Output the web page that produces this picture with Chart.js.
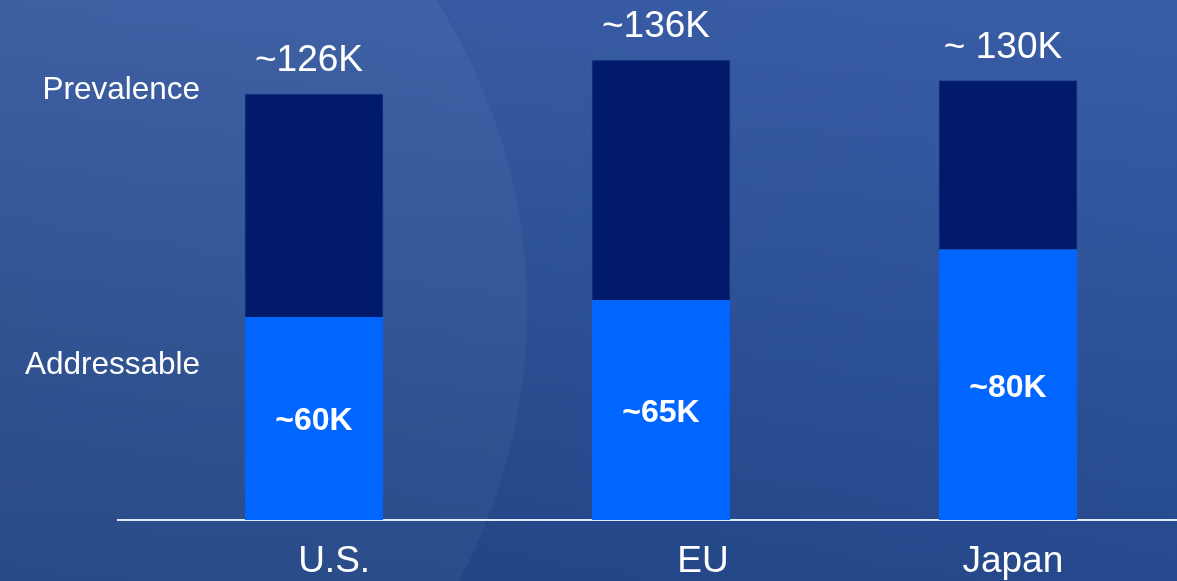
<!DOCTYPE html>
<html>
<head>
<meta charset="utf-8">
<title>Patient population</title>
<script src="https://cdn.jsdelivr.net/npm/chart.js@4.4.1/dist/chart.umd.min.js"></script>
<style>
    html, body {
        margin: 0;
        padding: 0;
        overflow: hidden;
        background: #2c4c8c;
    }
    .chart-wrap {
        position: relative;
        width: 1177px;
        height: 581px;
    }
</style>
</head>
<body>
<div class="chart-wrap">
    <canvas id="popChart"></canvas>
</div>
<script>
// Regions and population estimates (thousands of patients)
const regions = ['U.S.', 'EU', 'Japan'];
const prevalence = [126, 136, 130];
const addressable = [60, 65, 80];
const prevalenceLabels = ['~126K', '~136K', '~ 130K'];
const addressableLabels = ['~60K', '~65K', '~80K'];
const seriesNames = ['Addressable', 'Prevalence'];

// the stacked top segment is what is left of prevalence above the addressable part
const remainder = prevalence.map((p, i) => p - addressable[i]);

// region names sit a little to the right of their bars
const regionLabelNudge = [0.058, 0.121, 0.014];

const FONT = '"Liberation Sans", Arial, Helvetica, sans-serif';

// Blue slide background with the large soft circle on the left
const backgroundPlugin = {
    id: 'slideBackground',
    beforeDraw(chart) {
        const { ctx, width, height } = chart;
        ctx.save();
        const v = ctx.createLinearGradient(0, 0, 0, height);
        v.addColorStop(0, '#36599f');
        v.addColorStop(1, '#1f4280');
        ctx.fillStyle = v;
        ctx.fillRect(0, 0, width, height);

        const h = ctx.createLinearGradient(0, 0, width, 0);
        h.addColorStop(0, 'rgba(70, 110, 200, 0)');
        h.addColorStop(1, 'rgba(70, 110, 200, 0.18)');
        ctx.fillStyle = h;
        ctx.fillRect(0, 0, width, height);

        ctx.beginPath();
        ctx.arc(-47, 310, 574, 0, Math.PI * 2);
        ctx.fillStyle = 'rgba(255, 255, 255, 0.045)';
        ctx.fill();
        ctx.restore();
    }
};

// Value labels on the bars and the series names on the left
const labelPlugin = {
    id: 'barLabels',
    afterDatasetsDraw(chart) {
        const { ctx } = chart;
        const lower = chart.getDatasetMeta(0).data;
        const upper = chart.getDatasetMeta(1).data;
        ctx.save();
        ctx.fillStyle = '#ffffff';
        ctx.textAlign = 'center';

        // totals above each bar
        ctx.font = '37px ' + FONT;
        ctx.textBaseline = 'alphabetic';
        upper.forEach((bar, i) => {
            ctx.fillText(prevalenceLabels[i], bar.x - 5, bar.y - 23);
        });

        // addressable values inside the bright segment
        ctx.font = 'bold 32px ' + FONT;
        ctx.textBaseline = 'middle';
        lower.forEach((bar, i) => {
            ctx.fillText(addressableLabels[i], bar.x, (bar.y + bar.base) / 2 + 3);
        });

        // series names
        const yScale = chart.scales.y;
        const left = chart.chartArea.left + 82;
        ctx.font = '31.5px ' + FONT;
        ctx.textAlign = 'right';
        ctx.textBaseline = 'alphabetic';
        ctx.fillText(seriesNames[1], left, yScale.getPixelForValue(124.5));
        ctx.fillText(seriesNames[0], left, yScale.getPixelForValue(43.2));
        ctx.restore();
    }
};

const ctx = document.getElementById('popChart').getContext('2d');
const popChart = new Chart(ctx, {
    type: 'bar',
    data: {
        datasets: [{
            label: seriesNames[0],
            data: addressable.map((v, i) => ({ x: i, y: v })),
            backgroundColor: '#0066ff',
            borderColor: '#0a62ee',
            borderWidth: 1,
            barThickness: 138
        }, {
            label: seriesNames[1],
            data: remainder.map((v, i) => ({ x: i, y: v })),
            backgroundColor: '#021a6a',
            borderColor: '#15388a',
            borderWidth: 1,
            barThickness: 138
        }]
    },
    options: {
        responsive: true,
        maintainAspectRatio: false,
        animation: false,
        layout: {
            padding: { top: 13, bottom: -22, left: 118, right: 0 }
        },
        plugins: {
            legend: { display: false },
            tooltip: { enabled: false }
        },
        scales: {
            x: {
                type: 'linear',
                stacked: true,
                offset: false,
                min: -0.5648,
                max: 2.487,
                afterBuildTicks(scale) {
                    scale.ticks = regions.map((r, i) => ({ value: i + regionLabelNudge[i] }));
                },
                grid: { display: false, drawTicks: false },
                border: { display: true, color: 'rgba(235, 242, 255, 0.95)', width: 2 },
                ticks: {
                    color: '#ffffff',
                    padding: 23,
                    maxRotation: 0,
                    autoSkip: false,
                    font: { family: FONT, size: 37, lineHeight: 1 },
                    callback: (value) => regions[Math.round(value)]
                }
            },
            y: {
                display: false,
                stacked: true,
                min: 0,
                max: 150
            }
        }
    },
    plugins: [backgroundPlugin, labelPlugin]
});
</script>
</body>
</html>
